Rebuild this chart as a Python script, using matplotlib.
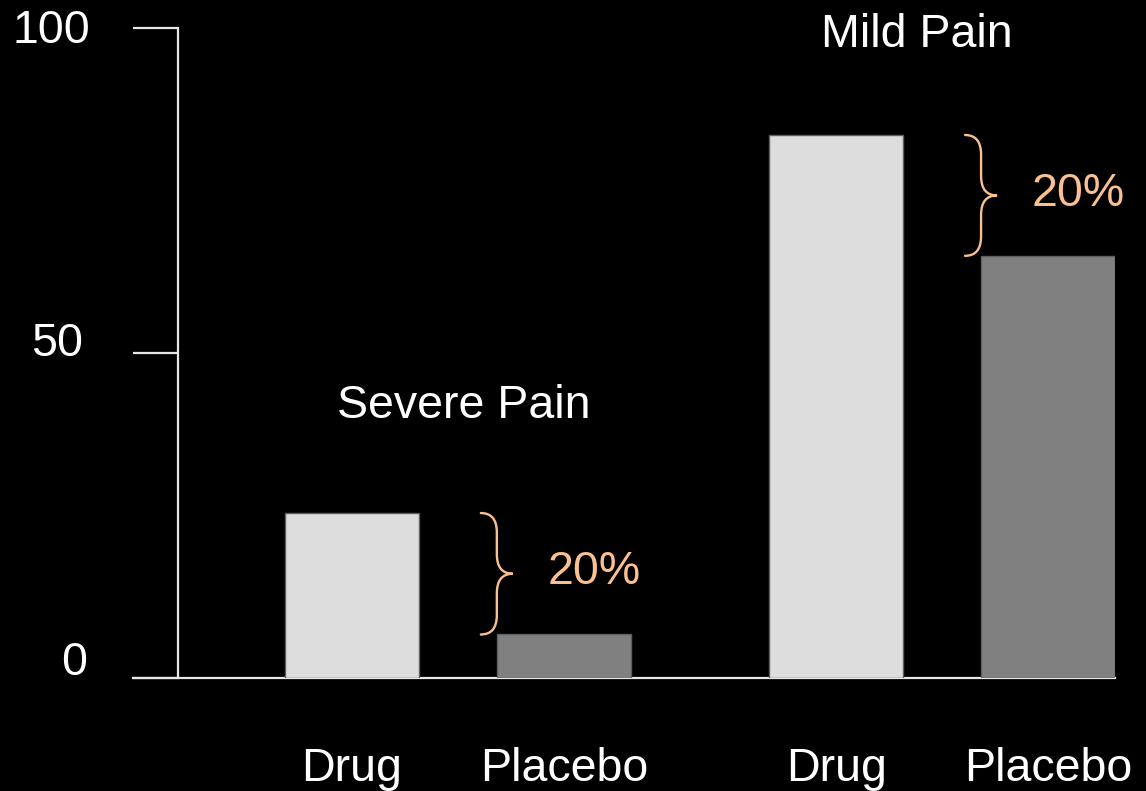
import matplotlib
matplotlib.use("Agg")
import matplotlib.pyplot as plt
from matplotlib.path import Path
from matplotlib.patches import PathPatch

plt.rcParams['font.family'] = ['Liberation Sans', 'DejaVu Sans']

groups = ['Severe Pain', 'Mild Pain']
arms = ['Drug', 'Placebo']
severe = [25.4, 6.7]
mild = [83.6, 65.0]
diff_labels = ['20%', '20%']
yticks = [0, 50, 100]

positions = [0, 1, 2.285, 3.285]
width = 0.632
bar_colors = ['#dddddd', '#808080']
orange = '#fac090'
axis_col = '#e8e8e8'
fs = 33.5


def brace(ax, x0, ytop, ybot, d=0.0755, r=3.0):
    # right-pointing curly brace, spine at x0
    ymid = (ytop + ybot) / 2
    verts = [(x0 - d, ytop), (x0, ytop), (x0, ytop - r),
             (x0, ymid + r),
             (x0, ymid), (x0 + d, ymid),
             (x0, ymid), (x0, ymid - r),
             (x0, ybot + r),
             (x0, ybot), (x0 - d, ybot)]
    codes = [Path.MOVETO, Path.CURVE3, Path.CURVE3,
             Path.LINETO,
             Path.CURVE3, Path.CURVE3,
             Path.CURVE3, Path.CURVE3,
             Path.LINETO,
             Path.CURVE3, Path.CURVE3]
    ax.add_patch(PathPatch(Path(verts, codes), fill=False, edgecolor=orange,
                           lw=1.7, capstyle='round', clip_on=False))
    return x0 + d, ymid


fig = plt.figure(figsize=(11.46, 7.91), dpi=100, facecolor='black')
ax = fig.add_axes([133 / 1146, 113 / 791, 982 / 1146, 649.5 / 791])
ax.set_facecolor('black')

values = severe + mild
colors = bar_colors * 2
ax.bar(positions, values, width=width, color=colors, edgecolor='#5f5f5f',
       linewidth=1, zorder=3)

ax.set_xlim(-1.033, 3.601)
ax.set_ylim(0, 100)

for side in ['top', 'right']:
    ax.spines[side].set_visible(False)
ax.spines['left'].set_position(('data', -0.8208))
ax.spines['left'].set_bounds(0, 100)
for side in ['left', 'bottom']:
    ax.spines[side].set_color(axis_col)
    ax.spines[side].set_linewidth(1.6)
    ax.spines[side].set_zorder(1)
ax.set_xticks([])
ax.set_yticks(yticks)
ax.set_yticklabels([])
ax.tick_params(axis='y', length=32.4, width=1.6, color=axis_col, direction='out')

# y tick labels, set by hand like the slide text boxes
nudges = [(-1.25, 0.46), (-1.27, 49.6), (-1.233, 97.7)]
for v, (nx, ny) in zip(yticks, nudges):
    ax.text(nx, ny, str(v), color='white', fontsize=fs, ha='right', va='baseline')

# category labels under the bars
for x, name in zip(positions, arms * 2):
    ax.text(x, -15.9, name, color='white', fontsize=fs, ha='center', va='baseline')

# group titles
ax.text(0.53, 40.0, groups[0], color='white', fontsize=fs, ha='center', va='baseline')
ax.text(2.664, 97.2, groups[1], color='white', fontsize=fs, ha='center', va='baseline')

# difference braces between drug and placebo
for (drug, placebo), xp, lab in zip([severe, mild], [positions[1], positions[3]], diff_labels):
    tip_x, mid = brace(ax, xp - width / 2, drug, placebo)
    ax.text(tip_x + 0.164, mid - 1.6, lab, color=orange, fontsize=fs,
            ha='left', va='baseline')

fig.savefig('out.png', dpi=100, facecolor='black')
